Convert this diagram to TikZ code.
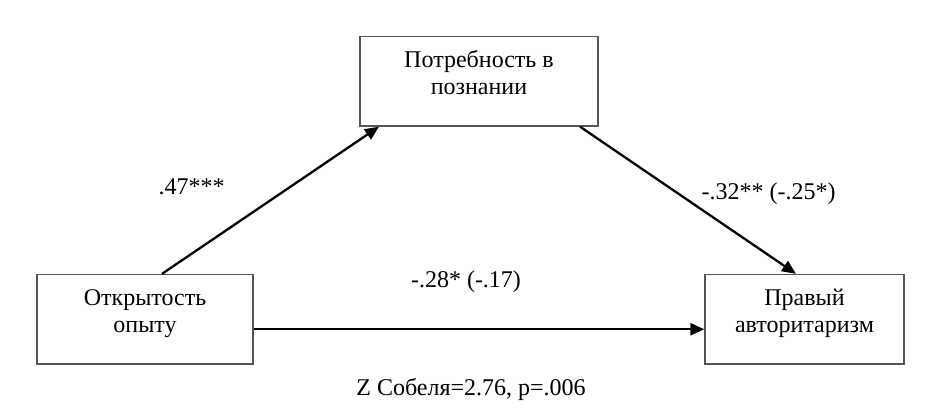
\documentclass[tikz,border=0pt]{standalone}
\usepackage{fontspec}
\setmainfont{Liberation Serif}
\usetikzlibrary{arrows.meta}
\definecolor{boxline}{HTML}{555555}
\tikzset{
  varbox/.style={draw=boxline, line width=1.3pt, fill=white, align=center,
    inner xsep=0pt, inner ysep=0pt, text height=57.5pt, text depth=32pt,
    font=\fontsize{24}{27}\selectfont},
  path/.style={draw=black, line width=2.3pt,
    -{Triangle[length=14pt,width=12pt]}},
  coef/.style={font=\fontsize{24}{27}\selectfont, anchor=base, inner sep=0pt}
}
\begin{document}
\begin{tikzpicture}[x=1pt,y=-1pt]
\useasboundingbox[fill=white] (0,0) rectangle (939,418);
\node[varbox, minimum width=238pt, anchor=base] (need) at (479,94) {Потребность в\\познании};
\node[varbox, minimum width=216pt, anchor=base] (open) at (145,332) {Открытость\\опыту};
\node[varbox, minimum width=199pt, anchor=base] (rwa) at (804.5,332) {Правый\\авторитаризм};
\draw[path] ([xshift=17pt]open.north) -- ([xshift=-100pt]need.south);
\draw[path] ([xshift=101pt]need.south) -- ([xshift=-8.5pt]rwa.north);
\draw[path] ([yshift=-10pt]open.east) -- ([yshift=-10pt]rwa.west);
\node[coef] (a) at (191.5,194) {.47***};
\node[coef] (b) at (768.5,199) {-.32** (-.25*)};
\node[coef] (c) at (466,287) {-.28* (-.17)};
\node[coef] (z) at (471,395) {Z Собеля=2.76, p=.006};
\end{tikzpicture}
\end{document}
